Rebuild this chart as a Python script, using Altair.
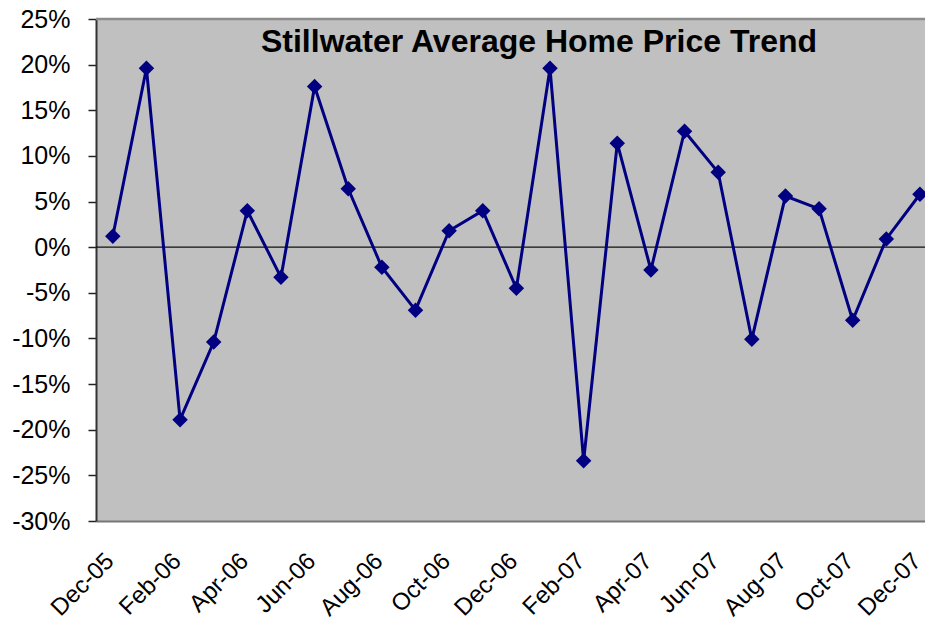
import json
import altair as alt
import pandas as pd

months = ["Dec-05", "Jan-06", "Feb-06", "Mar-06", "Apr-06", "May-06", "Jun-06",
          "Jul-06", "Aug-06", "Sep-06", "Oct-06", "Nov-06", "Dec-06", "Jan-07",
          "Feb-07", "Mar-07", "Apr-07", "May-07", "Jun-07", "Jul-07", "Aug-07",
          "Sep-07", "Oct-07", "Nov-07", "Dec-07"]
change_pct = [1.2, 19.6, -18.9, -10.4, 4.0, -3.3, 17.6, 6.4, -2.2, -6.9, 1.8, 4.0,
              -4.5, 19.6, -23.4, 11.4, -2.5, 12.7, 8.2, -10.1, 5.6, 4.2, -8.0, 0.9, 5.8]
y_ticks = [-30, -25, -20, -15, -10, -5, 0, 5, 10, 15, 20, 25]
title_text = "Stillwater Average Home Price Trend"

df = pd.DataFrame({"idx": list(range(len(months))), "month": months, "pct": change_pct})
zero_df = pd.DataFrame({"v": [0]})
top_df = pd.DataFrame({"v": [25]})
title_df = pd.DataFrame({"t": [title_text]})

FONT = "Liberation Sans"
NAVY = "#000080"
Y_SCALE = alt.Scale(domain=[-30, 25], nice=False, zero=False)

x_enc = alt.X(
    "idx:Q",
    scale=alt.Scale(domain=[-0.5, 24.15], nice=False, zero=False),
    axis=alt.Axis(
        values=list(range(0, len(months), 2)),
        labelExpr=json.dumps(months) + "[datum.value]",
        labelAngle=315,
        labelAlign="right",
        labelBaseline="middle",
        labelPadding=36,
        labelOffset=-3,
        labelFontSize=24,
        labelFont=FONT,
        labelColor="#000000",
        labelOverlap=False,
        labelBound=False,
        ticks=False,
        grid=False,
        domainColor="#777777",
        domainWidth=2,
        title=None,
    ),
)
y_enc = alt.Y(
    "pct:Q",
    scale=Y_SCALE,
    axis=alt.Axis(
        values=y_ticks,
        labelExpr="datum.value + '%'",
        labelFontSize=25,
        labelFont=FONT,
        labelColor="#000000",
        labelPadding=18,
        tickSize=8,
        tickColor="#222222",
        tickWidth=1.5,
        domainColor="#333333",
        domainWidth=2,
        grid=False,
        title=None,
    ),
)

top_border = alt.Chart(top_df).mark_rule(color="#8c8c8c", strokeWidth=2.5).encode(
    y=alt.Y("v:Q", scale=Y_SCALE)
)
zero = alt.Chart(zero_df).mark_rule(color="#111111", strokeWidth=1.3).encode(
    y=alt.Y("v:Q", scale=Y_SCALE)
)
line = alt.Chart(df).mark_line(color=NAVY, strokeWidth=3).encode(x=x_enc, y=y_enc)
pts = alt.Chart(df).mark_point(shape="diamond", filled=True, color=NAVY, size=240, opacity=1).encode(
    x=x_enc, y=y_enc
)
title = alt.Chart(title_df).mark_text(
    font=FONT, fontSize=32, fontWeight="bold", color="#000000",
    align="center", baseline="alphabetic"
).encode(text="t:N", x=alt.value(443), y=alt.value(33))

chart = (
    alt.layer(top_border, zero, line, pts, title)
    .properties(
        width=829,
        height=502,
        padding={"left": 88, "top": 11, "right": 0, "bottom": 100},
        autosize=alt.AutoSizeParams(type="none"),
    )
    .configure(background="#FFFFFF")
    .configure_view(fill="#C0C0C0", stroke="transparent", strokeWidth=0)
)

chart.save("out.html", embed_options={"renderer": "svg", "actions": False})
